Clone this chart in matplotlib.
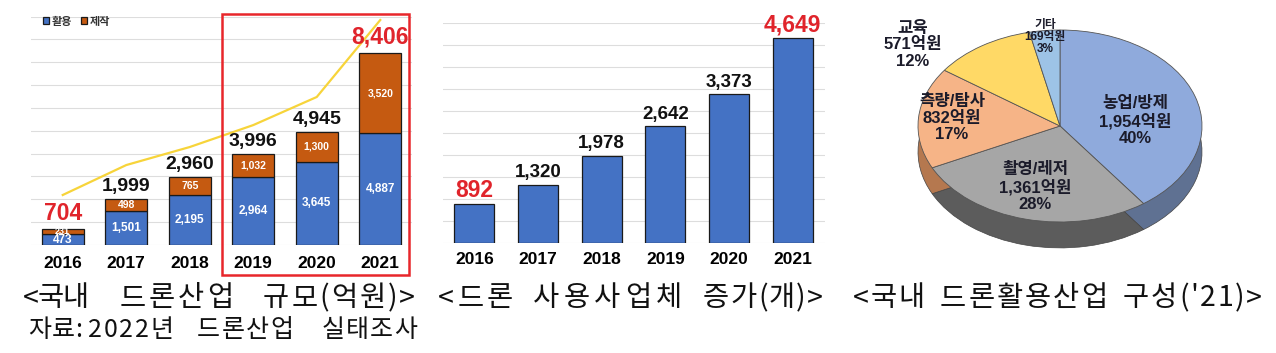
import matplotlib
matplotlib.use("Agg")
import matplotlib.pyplot as plt
from matplotlib.patches import Rectangle

plt.rcParams['font.family'] = ['Liberation Sans', 'Noto Sans CJK KR']

# ---------------- data ----------------
years = ['2016', '2017', '2018', '2019', '2020', '2021']
use_vals = [473, 1501, 2195, 2964, 3645, 4887]        # 활용
make_vals = [231, 498, 765, 1032, 1300, 3520]         # 제작
total_labels = ['704', '1,999', '2,960', '3,996', '4,945', '8,406']
trend_vals = [2190, 3500, 4290, 5250, 6480, 9850]     # yellow trend line

biz_vals = [892, 1320, 1978, 2642, 3373, 4649]        # 드론 사용사업체 수
biz_labels = ['892', '1,320', '1,978', '2,642', '3,373', '4,649']

pie_names = ['농업/방제', '촬영/레저', '측량/탐사', '교육', '기타']
pie_vals = [1954, 1361, 832, 571, 169]
pie_amt = ['1,954억원', '1,361억원', '832억원', '571억원', '169억원']
pie_pct = ['40%', '28%', '17%', '12%', '3%']

W, H = 1276, 353
fig = plt.figure(figsize=(W / 100, H / 100), dpi=100)
fig.patch.set_facecolor('white')


def fx(px):
    return px / W


def fy(py):
    return 1 - py / H


BLUE = '#4472C4'
ORANGE = '#C55A11'
RED = '#E0242B'

# ---------------- panel 1: stacked bars ----------------
ax1 = fig.add_axes([fx(31), fy(245), 381 / W, 228.4 / H])
x = list(range(len(years)))
b1 = ax1.bar(x, use_vals, width=0.66, color=BLUE, edgecolor='#1a1a1a', linewidth=0.9, zorder=3, label='활용')
b2 = ax1.bar(x, make_vals, bottom=use_vals, width=0.66, color=ORANGE, edgecolor='#1a1a1a', linewidth=0.9,
             zorder=3, label='제작')
ax1.plot(x, trend_vals, color='#F7D43A', lw=1.6, zorder=4, clip_on=False)
ax1.set_ylim(0, 10000)
ax1.set_xlim(-0.5, 5.5)
ax1.set_yticks(range(0, 10001, 1000))
ax1.yaxis.grid(True, color='#DDDDDD', lw=0.8, zorder=0)
ax1.set_axisbelow(True)
ax1.tick_params(axis='y', length=0, labelleft=False)
ax1.set_xticks(x, years)
ax1.tick_params(axis='x', length=0, pad=8)
for lab in ax1.get_xticklabels():
    lab.set_fontsize(12.5)
    lab.set_fontweight('bold')
for s in ax1.spines.values():
    s.set_visible(False)

for i in x:
    u, m = use_vals[i], make_vals[i]
    ax1.text(i, u / 2, f'{u:,}', ha='center', va='center', color='white', fontsize=8.5,
             fontweight='bold', zorder=5)
    ax1.text(i, u + m / 2, f'{m:,}', ha='center', va='center', color='white', fontsize=7.5 if i else 6.5,
             fontweight='bold', zorder=5)
    first_last = i in (0, len(years) - 1)
    ax1.annotate(total_labels[i], (i, u + m), xytext=(0, 3), textcoords='offset points',
                 ha='center', va='bottom', fontsize=16.5 if first_last else 14, fontweight='bold',
                 color=RED if first_last else '#111111', zorder=6, annotation_clip=False)

leg = ax1.legend(handles=[b1, b2], loc='upper left', bbox_to_anchor=(0.016, 1.025), ncol=2, frameon=False,
                 handlelength=0.55, handleheight=0.55, handletextpad=0.25, columnspacing=0.8, borderpad=0,
                 prop={'size': 8, 'weight': 'bold'})
for t in leg.get_texts():
    t.set_color('#333333')

fig.add_artist(Rectangle((fx(222), fy(275)), (409 - 222) / W, (275 - 14) / H, transform=fig.transFigure,
                         fill=False, edgecolor='#E8262B', lw=1.8))

# ---------------- panel 2: bars ----------------
ax2 = fig.add_axes([fx(442.6), fy(243), 382 / W, 220.5 / H])
ax2.bar(x, biz_vals, width=0.63, color=BLUE, edgecolor='#1a1a1a', linewidth=0.9, zorder=3)
ax2.set_ylim(0, 5000)
ax2.set_xlim(-0.5, 5.5)
ax2.set_yticks(range(0, 5001, 500))
ax2.yaxis.grid(True, color='#DDDDDD', lw=0.8, zorder=0)
ax2.set_axisbelow(True)
ax2.tick_params(axis='y', length=0, labelleft=False)
ax2.set_xticks(x, years)
ax2.tick_params(axis='x', length=0, pad=6.5)
for lab in ax2.get_xticklabels():
    lab.set_fontsize(12.5)
    lab.set_fontweight('bold')
for s in ax2.spines.values():
    s.set_visible(False)
for i in x:
    first_last = i in (0, len(years) - 1)
    ax2.annotate(biz_labels[i], (i, biz_vals[i]), xytext=(0, 2.5 if not first_last else 1),
                 textcoords='offset points', ha='center', va='bottom',
                 fontsize=16.5 if first_last else 13.5, fontweight='bold',
                 color=RED if first_last else '#111111', zorder=6, annotation_clip=False)

# ---------------- panel 3: pseudo-3D pie ----------------
cx, cy, rx, ry = 1060, 126, 142, 96
depth = 0.27
ax3 = fig.add_axes([fx(cx - rx), fy(cy + ry + depth * ry + 4), 2 * rx / W, (2 * ry + depth * ry + 4) / H])
top_colors = ['#8FAADC', '#A6A6A6', '#F6B487', '#FFD966', '#9DC3E6']
side_colors = ['#5F7192', '#5C5C5C', '#B5784F', '#B99A3A', '#6A8CB0']
ax3.pie(pie_vals, colors=side_colors, startangle=90, counterclock=False, center=(0, -depth),
        wedgeprops={'edgecolor': '#444444', 'linewidth': 0.5})
ax3.pie(pie_vals, colors=top_colors, startangle=90, counterclock=False, center=(0, 0),
        wedgeprops={'edgecolor': '#555555', 'linewidth': 0.6})
ax3.set_aspect('auto')
ax3.set_xlim(-1, 1)
ax3.set_ylim(-1 - depth - 4 / ry, 1)
ax3.axis('off')


def pd(px, py):
    return (px - cx) / rx, (cy - py) / ry


label_pos = [(1135, 121), (1035, 187), (952, 118), (913, 45), (1045, 37)]
for k in range(len(pie_vals)):
    px, py = label_pos[k]
    dx, dy = pd(px, py)
    small = k == len(pie_vals) - 1
    ax3.text(dx, dy, f'{pie_names[k]}\n{pie_amt[k]}\n{pie_pct[k]}', ha='center', va='center',
             fontsize=8.5 if small else 12, fontweight='bold', color='#1b1b2a',
             linespacing=1.05 if small else 1.12, clip_on=False, zorder=10)

# ---------------- captions (letter-spaced to match the source) ----------------
cap_font = ['Noto Sans CJK KR', 'DejaVu Sans']
renderer = fig.canvas.get_renderer()


def spaced_text(txt, x0, x1, yc, size):
    widths = []
    for ch in txt:
        t = fig.text(0, 0, ch, fontsize=size, family=cap_font)
        widths.append(t.get_window_extent(renderer).width)
        t.remove()
    n = len(txt)
    gap = max((x1 - x0 - sum(widths)) / max(n - 1, 1), -1.5)
    cur = x0
    for ch, w in zip(txt, widths):
        fig.text(fx(cur), fy(yc), ch, ha='left', va='center', fontsize=size, family=cap_font,
                 color='#111111')
        cur += w + gap


captions = [
    ('<국내', 23, 88), ('드론산업', 120, 233), ('규모(억원)>', 263, 415),
    ('<드론', 438, 513), ('사용사업체', 533, 682), ('증가(개)>', 703, 823),
    ('<국내', 853, 925), ('드론활용산업', 940, 1107), ("구성('21)>", 1123, 1262),
]
for txt, a, b in captions:
    spaced_text(txt, a, b, 298, 20.5)

source = [('자료:', 28, 82), ('2022년', 88, 173), ('드론산업', 197, 293), ('실태조사', 322, 417)]
for txt, a, b in source:
    spaced_text(txt, a, b, 330, 18)

fig.savefig('out.png', dpi=100, facecolor='white')
